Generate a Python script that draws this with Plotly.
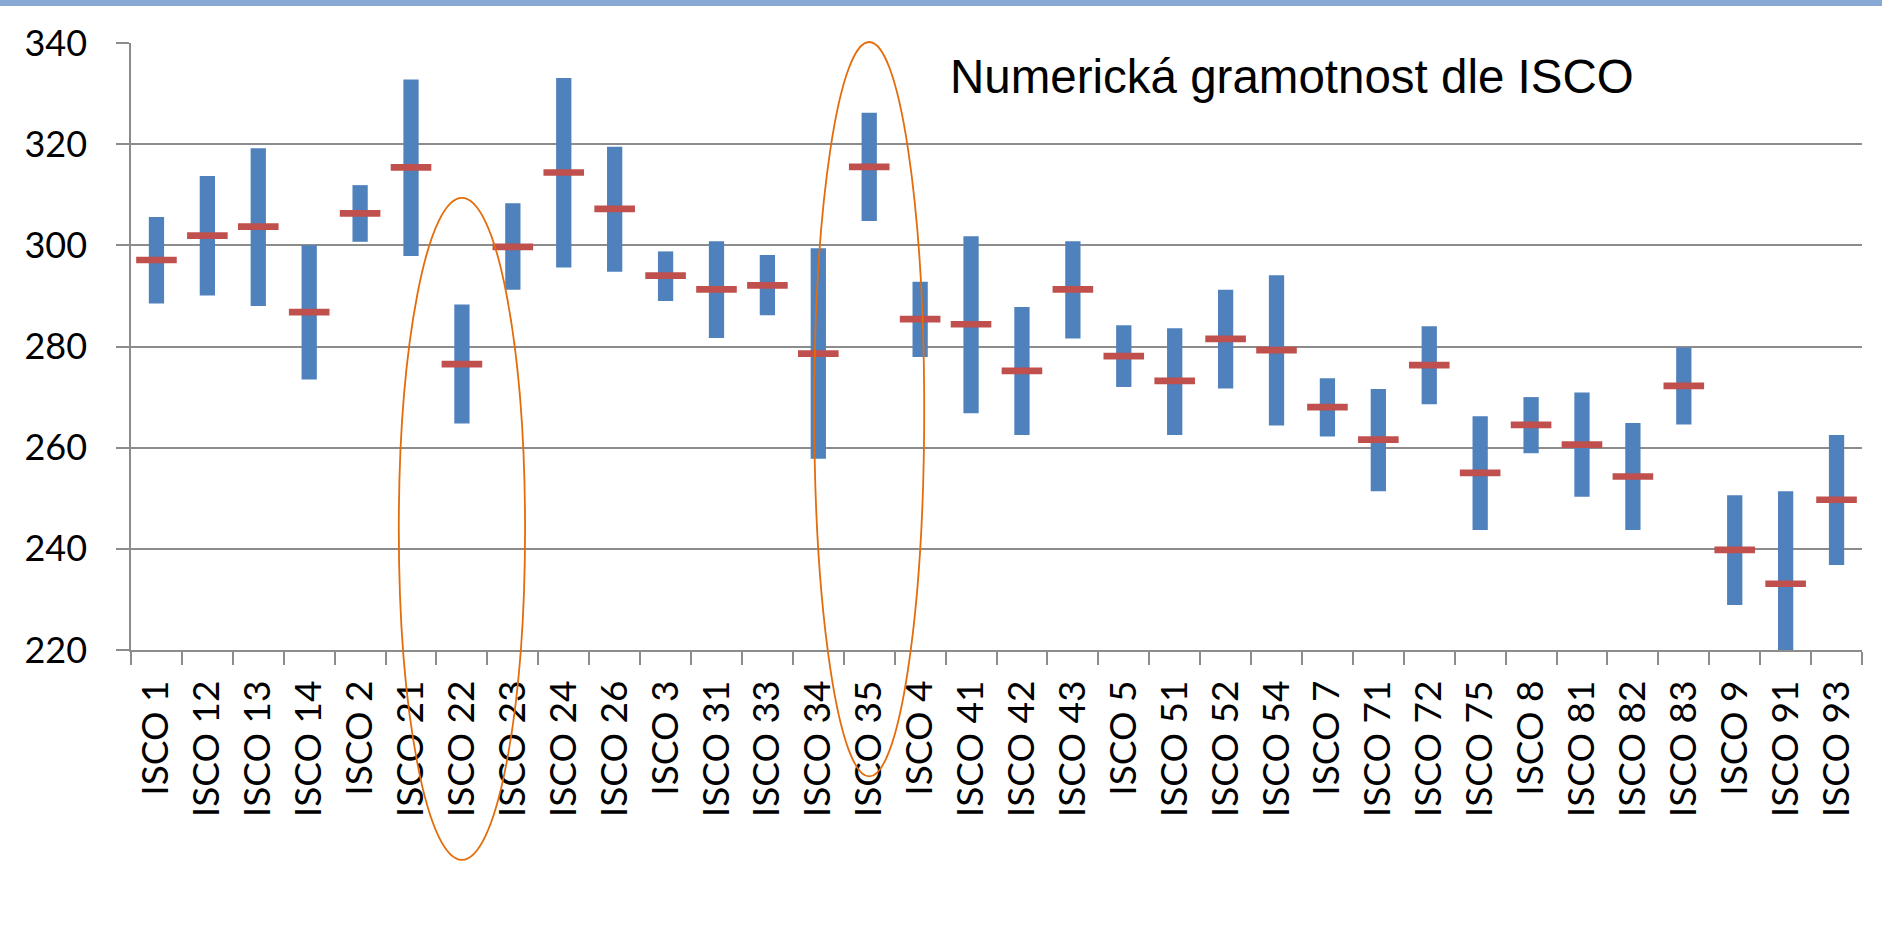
import plotly.graph_objects as go

categories = ["ISCO 1", "ISCO 12", "ISCO 13", "ISCO 14", "ISCO 2", "ISCO 21", "ISCO 22", "ISCO 23",
              "ISCO 24", "ISCO 26", "ISCO 3", "ISCO 31", "ISCO 33", "ISCO 34", "ISCO 35", "ISCO 4",
              "ISCO 41", "ISCO 42", "ISCO 43", "ISCO 5", "ISCO 51", "ISCO 52", "ISCO 54", "ISCO 7",
              "ISCO 71", "ISCO 72", "ISCO 75", "ISCO 8", "ISCO 81", "ISCO 82", "ISCO 83", "ISCO 9",
              "ISCO 91", "ISCO 93"]
low = [288.5, 290.1, 288.0, 273.5, 300.7, 297.9, 264.8, 291.2, 295.6, 294.8, 289.0, 281.7,
       286.2, 257.8, 304.8, 277.9, 266.8, 262.5, 281.6, 272.0, 262.5, 271.7, 264.4, 262.2,
       251.4, 268.6, 243.7, 258.9, 250.3, 243.7, 264.6, 228.9, 219.5, 236.8]
high = [305.6, 313.7, 319.2, 300.0, 311.9, 332.8, 288.3, 308.3, 333.1, 319.5, 298.8, 300.8,
        298.1, 299.4, 326.2, 292.8, 301.8, 287.8, 300.8, 284.2, 283.6, 291.2, 294.1, 273.7,
        271.6, 284.0, 266.2, 270.0, 270.9, 264.9, 279.8, 250.6, 251.4, 262.5]
mean = [297.1, 301.9, 303.7, 286.8, 306.3, 315.4, 276.5, 299.7, 314.4, 307.2, 294.0, 291.3,
        292.1, 278.6, 315.5, 285.4, 284.4, 275.2, 291.3, 278.1, 273.2, 281.5, 279.3, 268.0,
        261.6, 276.3, 255.0, 264.5, 260.6, 254.3, 272.2, 239.8, 233.1, 249.7]
y_ticks = [220, 240, 260, 280, 300, 320, 340]
title_text = "Numerická gramotnost dle ISCO"

# highlighted groups: (category, half-width in categories, value bottom, value top)
highlights = [("ISCO 22", 1.24, 178.5, 309.4), ("ISCO 35", 1.08, 195.0, 340.2)]

Y_MIN, Y_MAX = 220, 340
BLUE = "#4F81BD"
RED = "#C0504D"
GRID = "#8C8C8C"
FONT = "Lato"

fig = go.Figure()
fig.add_trace(go.Bar(
    x=categories, y=[h - l for h, l in zip(high, low)], base=low,
    width=0.30, marker=dict(color=BLUE, line=dict(width=0)),
    hoverinfo="skip"))
fig.add_trace(go.Scatter(
    x=categories, y=mean, mode="markers",
    marker=dict(symbol="line-ew", size=29, color=RED, line=dict(color=RED, width=6.7)),
    hoverinfo="skip"))

n = len(categories)
for cat, hw, vb, vt in highlights:
    i = categories.index(cat)
    fig.add_shape(type="circle", xref="paper", yref="paper",
                  x0=(i + 0.5 - hw) / n, x1=(i + 0.5 + hw) / n,
                  y0=(vb - Y_MIN) / (Y_MAX - Y_MIN), y1=(vt - Y_MIN) / (Y_MAX - Y_MIN),
                  line=dict(color="#E46C0A", width=1.8), layer="above")

# top decorative band
fig.add_shape(type="rect", xref="paper", yref="paper", x0=-0.2, x1=1.2,
              y0=1 + 37 / 607.6, y1=1 + 50 / 607.6, line=dict(width=0),
              fillcolor="#88A9D3", layer="above")

fig.add_annotation(text=title_text, xref="paper", yref="paper", x=0.4719, y=0.944,
                   xanchor="left", yanchor="middle", showarrow=False,
                   font=dict(family="Liberation Sans, Arial", size=47.5, color="black"))

fig.update_layout(
    width=1882, height=937,
    margin=dict(l=131, r=20, t=43, b=287, autoexpand=False),
    paper_bgcolor="white", plot_bgcolor="white",
    showlegend=False, barmode="overlay",
)
fig.update_xaxes(type="category", range=[-0.5, n - 0.5], tickson="boundaries", ticks="outside",
                 ticklen=13, tickcolor=GRID, tickwidth=1.5, showline=True, linecolor=GRID,
                 linewidth=1.5, showgrid=False, tickangle=-90, ticklabelstandoff=14,
                 automargin=False, tickfont=dict(family=FONT, size=37, color="black"))
fig.update_yaxes(range=[Y_MIN, Y_MAX], tickvals=y_ticks, ticks="outside", ticklen=13,
                 tickcolor=GRID, tickwidth=1.5, showline=True, linecolor=GRID, linewidth=1.5,
                 showgrid=True, gridcolor=GRID, gridwidth=1.5, zeroline=False,
                 ticklabelstandoff=22, automargin=False,
                 tickfont=dict(family=FONT, size=36, color="black"))

fig.write_html("out.html", config={"displayModeBar": False},
               post_script="document.body.style.margin='0';document.body.style.overflow='hidden';")
